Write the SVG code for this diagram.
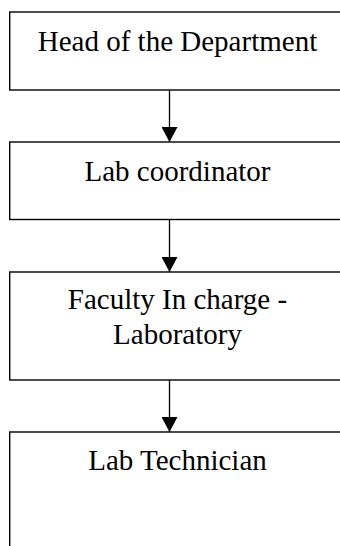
<svg xmlns="http://www.w3.org/2000/svg" width="340" height="546" viewBox="0 0 340 546">
<defs>
<style>
.box{fill:#fff;stroke:#000;stroke-width:1.4}
.lbl{font-family:"Liberation Serif","Times New Roman",serif;font-size:29px;fill:#000;text-anchor:middle}
.conn{stroke:#000;stroke-width:1.3;fill:none}
</style>
<marker id="ah" markerWidth="16" markerHeight="16" refX="15" refY="8" orient="auto" markerUnits="userSpaceOnUse">
<path d="M0,0 L15,8 L0,16 Z" fill="#000"/>
</marker>
</defs>
<rect width="340" height="546" fill="#fff"/>
<g id="node-hod">
<rect class="box" x="9.7" y="12" width="340" height="78"/>
<text class="lbl" x="177.5" y="51">Head of the Department</text>
</g>
<g id="node-labcoord">
<rect class="box" x="9.7" y="142" width="340" height="77.5"/>
<text class="lbl" x="177.5" y="181">Lab coordinator</text>
</g>
<g id="node-faculty">
<rect class="box" x="9.7" y="272" width="340" height="108"/>
<text class="lbl" x="177.5" y="308.5">Faculty In charge -</text>
<text class="lbl" x="177.5" y="343.5">Laboratory</text>
</g>
<g id="node-tech">
<rect class="box" x="9.7" y="432" width="340" height="130"/>
<text class="lbl" x="177.5" y="470">Lab Technician</text>
</g>
<g id="connectors">
<line class="conn" x1="169.5" y1="90" x2="169.5" y2="142" marker-end="url(#ah)"/>
<line class="conn" x1="169.5" y1="219.5" x2="169.5" y2="272" marker-end="url(#ah)"/>
<line class="conn" x1="169.5" y1="380" x2="169.5" y2="432" marker-end="url(#ah)"/>
</g>
</svg>
